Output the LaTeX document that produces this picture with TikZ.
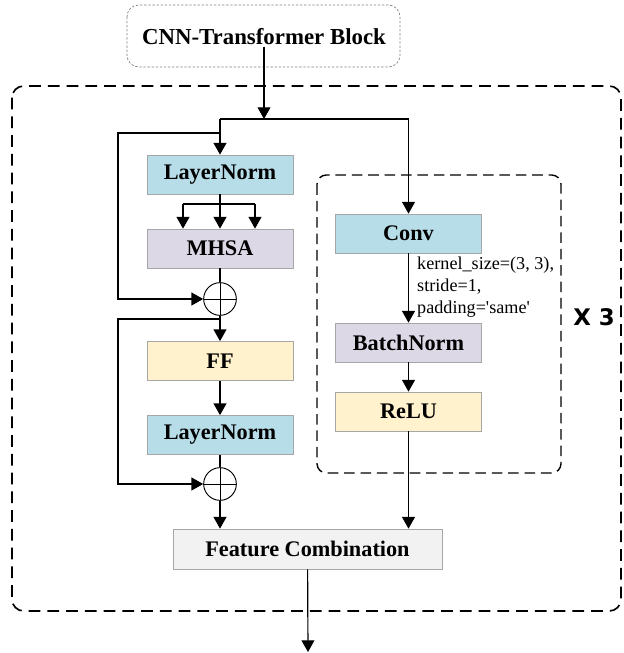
\documentclass[tikz,border=0pt]{standalone}
\usepackage{fontspec}
\setmainfont{Liberation Serif}
\newfontfamily\repfont{DejaVu Sans}
\usetikzlibrary{arrows.meta}
\definecolor{lnblue}{HTML}{B7DDE8}
\definecolor{attnpurple}{HTML}{DCD8E6}
\definecolor{ffyellow}{HTML}{FFF2CC}
\definecolor{fcgray}{HTML}{F2F2F2}
\definecolor{edgegray}{HTML}{A6A6A6}

\tikzset{
  blk/.style={draw=edgegray, line width=0.6pt, minimum width=4.38cm, minimum height=1.17cm,
    inner sep=0pt, font=\fontsize{19}{22}\selectfont\bfseries},
  addnode/.style={circle, draw, line width=0.8pt, minimum size=0.98cm, inner sep=0pt,
    path picture={\draw[line width=0.8pt] (path picture bounding box.west) -- (path picture bounding box.east)
      (path picture bounding box.north) -- (path picture bounding box.south);}},
  arr/.style={-{Triangle[length=10pt,width=11pt]}, line width=1pt},
  wire/.style={line width=1pt},
}

\begin{document}
\begin{tikzpicture}[x=0.03cm, y=-0.03cm]
            \useasboundingbox (0,0) rectangle (623,653);
            \draw[black, line width=1.4pt, dash pattern=on 10pt off 6pt, rounded corners=10pt] (12,86) rectangle (621,611);
            \draw[black, line width=1.2pt, dash pattern=on 9pt off 5pt, rounded corners=8pt] (317,175) rectangle (561,473);
            \draw[gray, line width=0.6pt, dash pattern=on 2pt off 1.5pt, rounded corners=10pt] (127,5) rectangle (400,67);
            \node (title) at (264,37) [inner sep=1pt, font=\fontsize{19.5}{22}\selectfont\bfseries] {CNN-Transformer Block};
            \coordinate (split) at (264,119);

            \node[blk, fill=lnblue] (ln1) at (220,174.5) {LayerNorm};
            \node[blk, fill=attnpurple] (mhsa) at (220,248.5) {MHSA};
            \node[addnode] (add1) at (220,299) {};
            \node[blk, fill=ffyellow] (ff) at (220,361) {FF};
            \node[blk, fill=lnblue] (ln2) at (220,435) {LayerNorm};
            \node[addnode] (add2) at (220,484) {};

            \node[blk, fill=lnblue] (conv) at (408.5,233.5) {Conv};
            \node[blk, fill=attnpurple] (bn) at (408.5,342.5) {BatchNorm};
            \node[blk, fill=ffyellow] (relu) at (408.5,411.5) {ReLU};
            \node (convargs) at (417,287) [anchor=west, align=left, inner sep=0pt, font=\fontsize{15.5}{18.7}\selectfont]
                {kernel\_size=(3, 3),\\stride=1,\\padding=\textquotesingle same\textquotesingle};
            \node (rep) at (594,317) [font=\repfont\fontsize{19.5}{22}\selectfont\bfseries] {X 3};

            \node[blk, fill=fcgray, minimum width=8.07cm, minimum height=1.2cm] (fc) at (307.5,549) {Feature Combination};
            \coordinate (out) at (308,652);

            \coordinate (splitl) at (ln1.north |- split);
            \coordinate (splitr) at (conv.north |- split);
            \coordinate (res1) at (220,133);
            \coordinate (res1l) at (118,133);
            \coordinate (fork) at (220,204);
            \coordinate (forkl) at (183,204);
            \coordinate (forkr) at (255,204);
            \coordinate (res2) at (220,319);
            \coordinate (res2l) at (118,319);

            \draw[arr] (title.south) -- (split);
            \draw[wire] (splitl) -- (splitr);
            \draw[arr] (splitl) -- (ln1);
            \draw[arr] (splitr) -- (conv);
            \draw[arr] (res1) -- (res1l) |- (add1);
            \draw[wire] (ln1) -- (fork);
            \draw[wire] (forkl) -- (forkr);
            \draw[arr] (forkl) -- (forkl |- mhsa.north);
            \draw[arr] (fork) -- (mhsa);
            \draw[arr] (forkr) -- (forkr |- mhsa.north);
            \draw[wire] (mhsa) -- (add1);
            \draw[arr] (add1) -- (ff);
            \draw[arr] (res2) -- (res2l) |- (add2);
            \draw[arr] (ff) -- (ln2);
            \draw[wire] (ln2) -- (add2);
            \draw[arr] (add2) -- (add2 |- fc.north);
            \draw[arr] (conv) -- (bn);
            \draw[arr] (bn) -- (relu);
            \draw[arr] (relu) -- (relu |- fc.north);
            \draw[arr] (fc) -- (out);
        \end{tikzpicture}
\end{document}
